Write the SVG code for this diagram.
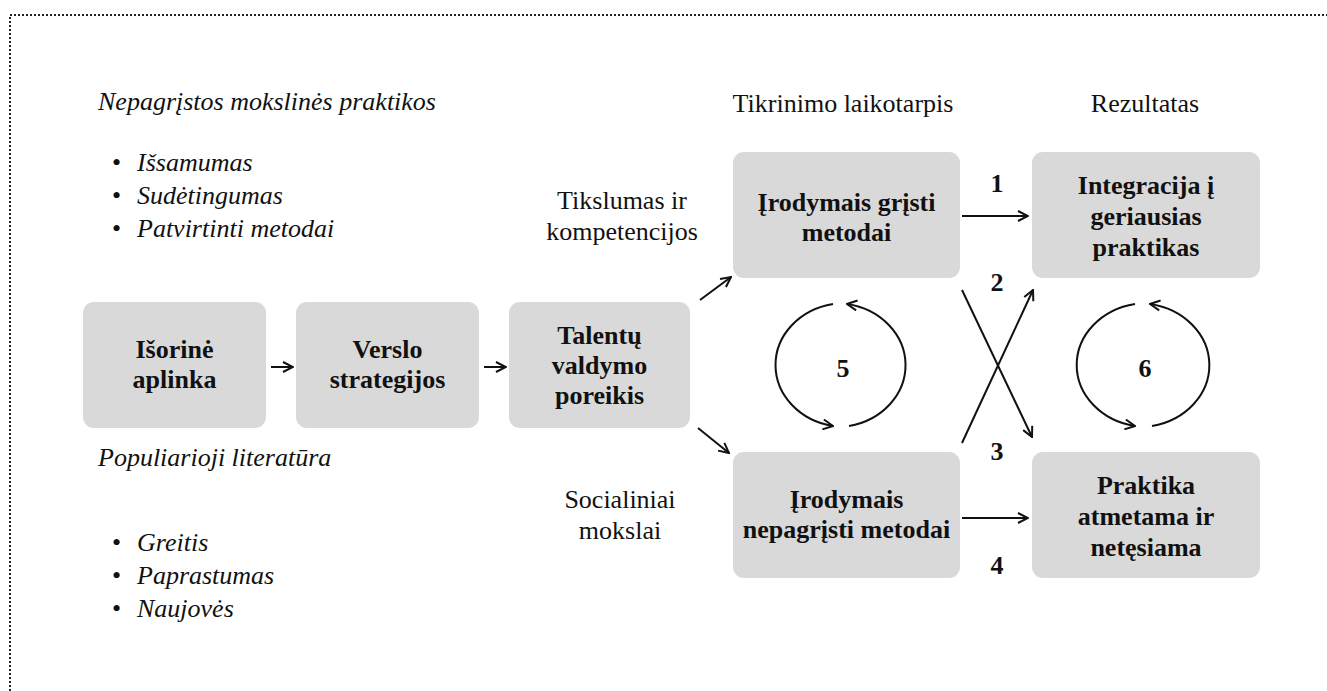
<svg xmlns="http://www.w3.org/2000/svg" width="1327" height="691" viewBox="0 0 1327 691">
<defs>
<style>
.box{fill:#d9d9d9;}
.bt{font-family:"Liberation Serif","Times New Roman",serif;font-size:26px;font-weight:bold;fill:#111;text-anchor:middle;}
.rt{font-family:"Liberation Serif","Times New Roman",serif;font-size:26px;fill:#111;}
.it{font-family:"Liberation Serif","Times New Roman",serif;font-size:26px;font-style:italic;fill:#111;}
.c{text-anchor:middle;}
.ln{stroke:#111;stroke-width:2;fill:none;}
</style>
<marker id="ah" viewBox="0 0 12 12" refX="11" refY="6" markerWidth="12" markerHeight="12" markerUnits="userSpaceOnUse" orient="auto">
<path d="M1,1 L11,6 L1,11" fill="none" stroke="#111" stroke-width="2"/>
</marker>
</defs>
<rect width="1327" height="691" fill="#fff"/>
<path d="M10,691 L10,15 L1327,15" fill="none" stroke="#222" stroke-width="2" stroke-dasharray="2 2"/>

<g id="left-top">
<text class="it" x="98" y="110">Nepagrįstos mokslinės praktikos</text>
<text class="rt" x="112" y="171">•</text><text class="it" x="137" y="171">Išsamumas</text>
<text class="rt" x="112" y="204">•</text><text class="it" x="137" y="204">Sudėtingumas</text>
<text class="rt" x="112" y="237">•</text><text class="it" x="137" y="237">Patvirtinti metodai</text>
</g>
<g id="left-bottom">
<text class="it" x="98" y="466">Populiarioji literatūra</text>
<text class="rt" x="112" y="551">•</text><text class="it" x="137" y="551">Greitis</text>
<text class="rt" x="112" y="584">•</text><text class="it" x="137" y="584">Paprastumas</text>
<text class="rt" x="112" y="617">•</text><text class="it" x="137" y="617">Naujovės</text>
</g>
<g id="headers">
<text class="rt c" x="843" y="112">Tikrinimo laikotarpis</text>
<text class="rt c" x="1145" y="112">Rezultatas</text>
<text class="rt c" x="622" y="209">Tikslumas ir</text>
<text class="rt c" x="622" y="240">kompetencijos</text>
<text class="rt c" x="620" y="508">Socialiniai</text>
<text class="rt c" x="620" y="539">mokslai</text>
</g>

<g id="n-isorine">
<rect class="box" x="83" y="302" width="183" height="126" rx="11"/>
<text class="bt" x="174.5" y="358">Išorinė</text>
<text class="bt" x="174.5" y="388">aplinka</text>
</g>
<g id="n-verslo">
<rect class="box" x="296" y="302" width="183" height="126" rx="11"/>
<text class="bt" x="387.5" y="358">Verslo</text>
<text class="bt" x="387.5" y="388">strategijos</text>
</g>
<g id="n-talentu">
<rect class="box" x="509" y="302" width="181" height="126" rx="11"/>
<text class="bt" x="599.5" y="344">Talentų</text>
<text class="bt" x="599.5" y="374">valdymo</text>
<text class="bt" x="599.5" y="404">poreikis</text>
</g>
<g id="n-grsti">
<rect class="box" x="733" y="152" width="227" height="126" rx="11"/>
<text class="bt" x="846.5" y="211">Įrodymais grįsti</text>
<text class="bt" x="846.5" y="241">metodai</text>
</g>
<g id="n-nepagristi">
<rect class="box" x="733" y="452" width="227" height="126" rx="11"/>
<text class="bt" x="846.5" y="508">Įrodymais</text>
<text class="bt" x="846.5" y="538">nepagrįsti metodai</text>
</g>
<g id="n-integracija">
<rect class="box" x="1032" y="152" width="228" height="126" rx="11"/>
<text class="bt" x="1146" y="194">Integracija į</text>
<text class="bt" x="1146" y="225">geriausias</text>
<text class="bt" x="1146" y="256">praktikas</text>
</g>
<g id="n-praktika">
<rect class="box" x="1032" y="452" width="228" height="126" rx="11"/>
<text class="bt" x="1146" y="494">Praktika</text>
<text class="bt" x="1146" y="525">atmetama ir</text>
<text class="bt" x="1146" y="556">netęsiama</text>
</g>

<g id="connectors">
<line class="ln" x1="271" y1="367" x2="293" y2="367" marker-end="url(#ah)"/>
<line class="ln" x1="484" y1="367" x2="506" y2="367" marker-end="url(#ah)"/>
<line class="ln" x1="700" y1="300" x2="731" y2="277" marker-end="url(#ah)"/>
<line class="ln" x1="698" y1="428" x2="729" y2="453" marker-end="url(#ah)"/>
<line class="ln" x1="962" y1="216" x2="1028" y2="216" marker-end="url(#ah)"/>
<line class="ln" x1="962" y1="518" x2="1028" y2="518" marker-end="url(#ah)"/>
<line class="ln" x1="962" y1="290" x2="1032" y2="437" marker-end="url(#ah)"/>
<line class="ln" x1="962" y1="443" x2="1033" y2="290" marker-end="url(#ah)"/>
<path class="ln" d="M833,304 A70,62 0 0 0 833,426" marker-end="url(#ah)"/>
<path class="ln" d="M849,426 A70,62 0 0 0 847,304" marker-end="url(#ah)"/>
<path class="ln" d="M1135,304 A71,62 0 0 0 1135,426" marker-end="url(#ah)"/>
<path class="ln" d="M1152,426 A71,62 0 0 0 1150,304" marker-end="url(#ah)"/>
<text class="bt" x="997" y="192">1</text>
<text class="bt" x="997" y="291">2</text>
<text class="bt" x="997" y="460">3</text>
<text class="bt" x="997" y="574">4</text>
<text class="bt" x="843" y="377">5</text>
<text class="bt" x="1145" y="377">6</text>
</g>
</svg>
